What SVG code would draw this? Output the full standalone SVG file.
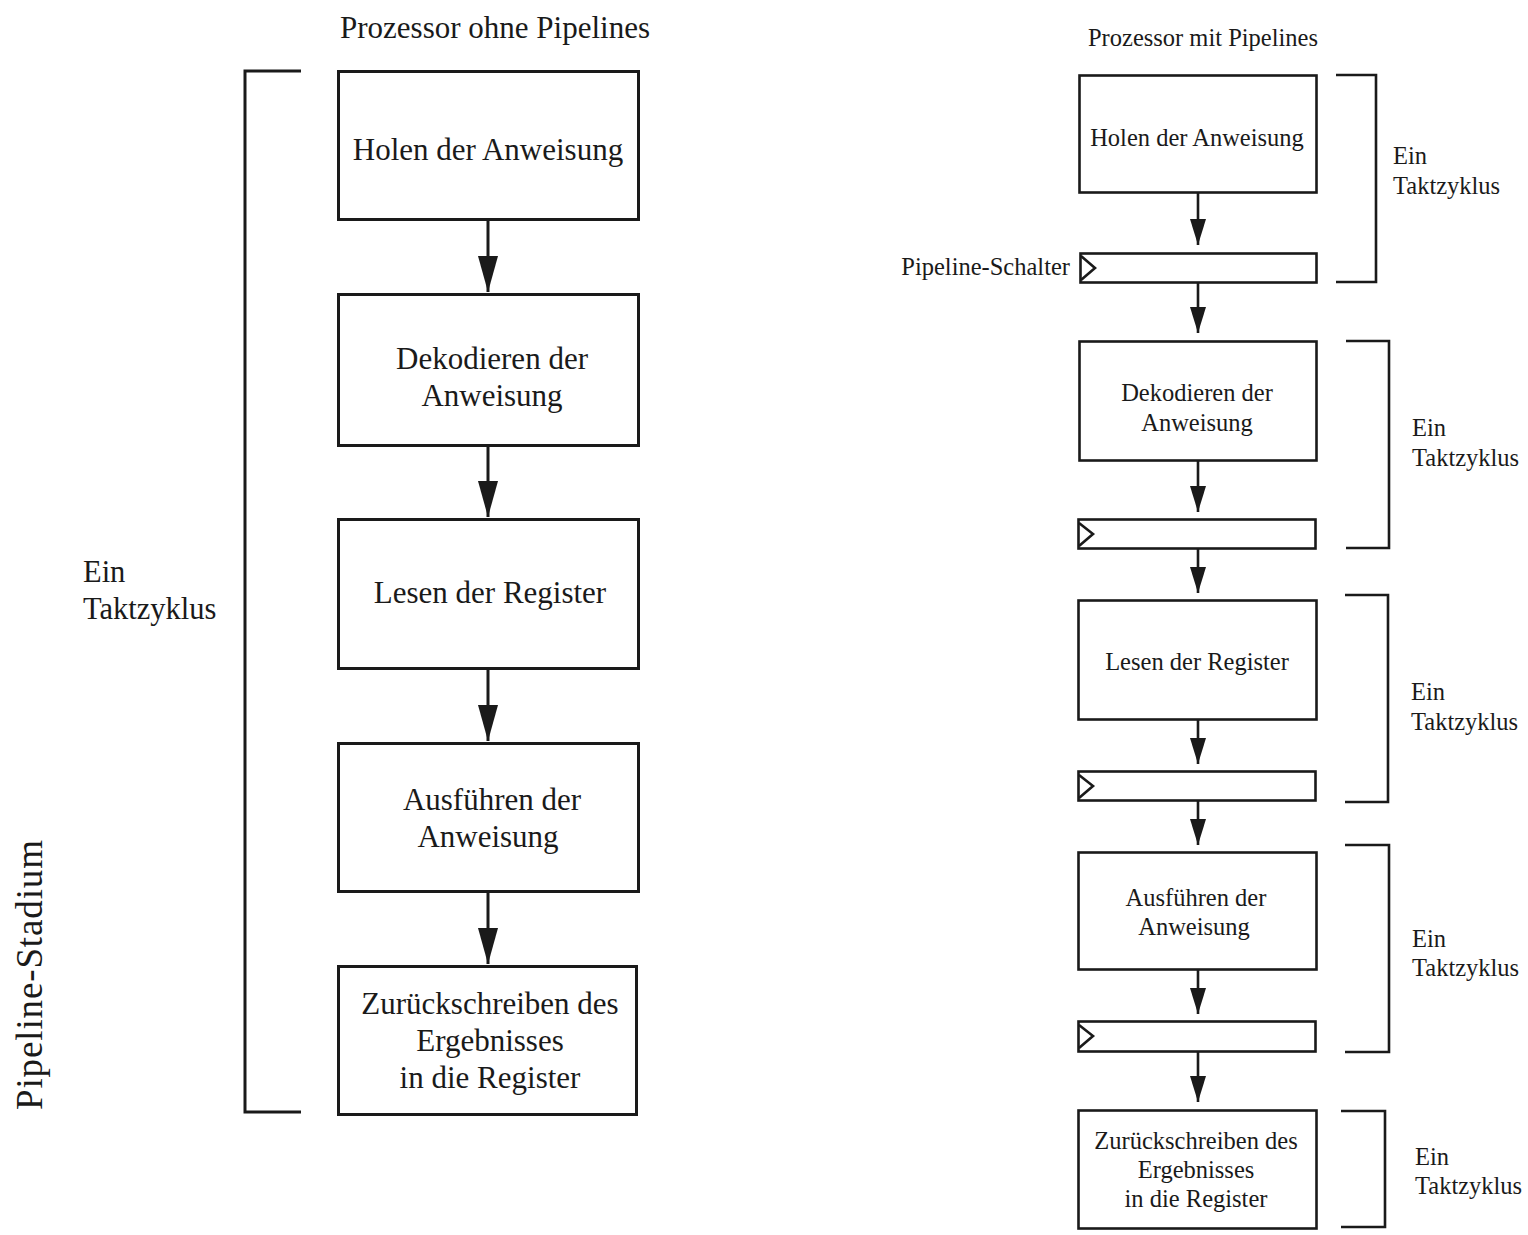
<svg xmlns="http://www.w3.org/2000/svg" width="1528" height="1235" viewBox="0 0 1528 1235">
<style>
  text { font-family: "Liberation Serif", "Times New Roman", serif; fill: #1a1a1a; }
  .L { font-size: 31px; text-anchor: middle; }
  .R { font-size: 24.5px; text-anchor: middle; }
  .lbl { font-size: 24.5px; }
  .boxL { fill: none; stroke: #1a1a1a; stroke-width: 3; }
  .boxR { fill: none; stroke: #1a1a1a; stroke-width: 2.6; }
  .br { fill: none; stroke: #1a1a1a; stroke-width: 2.6; }
  .conL { stroke: #1a1a1a; stroke-width: 3; marker-end: url(#ahL); }
  .conR { stroke: #1a1a1a; stroke-width: 2.6; marker-end: url(#ahR); }
</style>
<defs>
  <marker id="ahL" markerUnits="userSpaceOnUse" markerWidth="37" markerHeight="20" refX="36" refY="10" orient="auto">
    <path d="M0,0 L36,10 L0,20 Z" fill="#1a1a1a"/>
  </marker>
  <marker id="ahR" markerUnits="userSpaceOnUse" markerWidth="27" markerHeight="16" refX="26" refY="8" orient="auto">
    <path d="M0,0 L26,8 L0,16 Z" fill="#1a1a1a"/>
  </marker>
</defs>
<rect width="1528" height="1235" fill="#ffffff"/>

<!-- Left side: Prozessor ohne Pipelines -->
<text class="L" x="495" y="38" style="font-size:31px">Prozessor ohne Pipelines</text>
<path class="br" d="M301,71 H245 V1112 H301" style="stroke-width:3"/>
<text style="font-size:30.5px" x="83" y="582">Ein</text>
<text style="font-size:30.5px" x="83" y="619">Taktzyklus</text>
<text style="font-size:37px" transform="translate(42,975) rotate(-90)" text-anchor="middle" textLength="270" lengthAdjust="spacing">Pipeline-Stadium</text>

<g id="l1"><rect class="boxL" x="338.5" y="71.5" width="300" height="148"/><text class="L" x="488" y="160">Holen der Anweisung</text></g>
<g id="l2"><rect class="boxL" x="338.5" y="294.5" width="300" height="151"/><text class="L" x="492" y="369">Dekodieren der</text><text class="L" x="492" y="406">Anweisung</text></g>
<g id="l3"><rect class="boxL" x="338.5" y="519.5" width="300" height="149"/><text class="L" x="490" y="603">Lesen der Register</text></g>
<g id="l4"><rect class="boxL" x="338.5" y="743.5" width="300" height="148"/><text class="L" x="492" y="810">Ausführen der</text><text class="L" x="488" y="847">Anweisung</text></g>
<g id="l5"><rect class="boxL" x="338.5" y="966.5" width="298" height="148"/><text class="L" x="490" y="1014">Zurückschreiben des</text><text class="L" x="490" y="1051">Ergebnisses</text><text class="L" x="490" y="1088">in die Register</text></g>

<!-- Right side: Prozessor mit Pipelines -->
<text class="R" x="1203" y="46" style="font-size:24.5px">Prozessor mit Pipelines</text>
<text class="lbl" x="1070" y="275" text-anchor="end">Pipeline-Schalter</text>

<g id="r1"><rect class="boxR" x="1079.5" y="75.5" width="237" height="117"/><text class="R" x="1197" y="146">Holen der Anweisung</text></g>
<g id="reg1"><rect class="boxR" x="1080.5" y="253.5" width="236" height="29"/><path d="M1081,256 L1095,268 L1081,280" fill="none" stroke="#1a1a1a" stroke-width="2.6"/></g>
<g id="r2"><rect class="boxR" x="1079.5" y="341.5" width="237" height="119"/><text class="R" x="1197" y="401">Dekodieren der</text><text class="R" x="1197" y="431">Anweisung</text></g>
<g id="reg2"><rect class="boxR" x="1078.5" y="519.5" width="237" height="29"/><path d="M1079,523 L1093,534 L1079,546" fill="none" stroke="#1a1a1a" stroke-width="2.6"/></g>
<g id="r3"><rect class="boxR" x="1078.5" y="600.5" width="238" height="119"/><text class="R" x="1197" y="670">Lesen der Register</text></g>
<g id="reg3"><rect class="boxR" x="1078.5" y="771.5" width="237" height="29"/><path d="M1079,775 L1093,786 L1079,798" fill="none" stroke="#1a1a1a" stroke-width="2.6"/></g>
<g id="r4"><rect class="boxR" x="1078.5" y="852.5" width="238" height="117"/><text class="R" x="1196" y="906">Ausführen der</text><text class="R" x="1194" y="935">Anweisung</text></g>
<g id="reg4"><rect class="boxR" x="1078.5" y="1021.5" width="237" height="30"/><path d="M1079,1025 L1093,1036 L1079,1048" fill="none" stroke="#1a1a1a" stroke-width="2.6"/></g>
<g id="r5"><rect class="boxR" x="1078.5" y="1110.5" width="238" height="118"/><text class="R" x="1196" y="1149">Zurückschreiben des</text><text class="R" x="1196" y="1178">Ergebnisses</text><text class="R" x="1196" y="1207">in die Register</text></g>

<!-- Right brackets and labels -->
<path class="br" d="M1336,75 H1376 V282 H1336"/>
<text class="lbl" x="1393" y="164">Ein</text><text class="lbl" x="1393" y="194">Taktzyklus</text>
<path class="br" d="M1346,341 H1389 V548 H1346"/>
<text class="lbl" x="1412" y="436">Ein</text><text class="lbl" x="1412" y="466">Taktzyklus</text>
<path class="br" d="M1345,595 H1388 V802 H1345"/>
<text class="lbl" x="1411" y="700">Ein</text><text class="lbl" x="1411" y="730">Taktzyklus</text>
<path class="br" d="M1345,845 H1389 V1052 H1345"/>
<text class="lbl" x="1412" y="947">Ein</text><text class="lbl" x="1412" y="976">Taktzyklus</text>
<path class="br" d="M1341,1111 H1385 V1227 H1341"/>
<text class="lbl" x="1415" y="1165">Ein</text><text class="lbl" x="1415" y="1194">Taktzyklus</text>

<!-- Connectors -->
<g id="connectors">
  <line class="conL" x1="488" y1="220" x2="488" y2="292"/>
  <line class="conL" x1="488" y1="446" x2="488" y2="517"/>
  <line class="conL" x1="488" y1="669" x2="488" y2="741"/>
  <line class="conL" x1="488" y1="892" x2="488" y2="964"/>
  <line class="conR" x1="1198" y1="193" x2="1198" y2="245"/>
  <line class="conR" x1="1198" y1="283" x2="1198" y2="333"/>
  <line class="conR" x1="1198" y1="461" x2="1198" y2="512"/>
  <line class="conR" x1="1198" y1="549" x2="1198" y2="593"/>
  <line class="conR" x1="1198" y1="720" x2="1198" y2="764"/>
  <line class="conR" x1="1198" y1="801" x2="1198" y2="845"/>
  <line class="conR" x1="1198" y1="970" x2="1198" y2="1014"/>
  <line class="conR" x1="1198" y1="1052" x2="1198" y2="1102"/>
</g>
</svg>
